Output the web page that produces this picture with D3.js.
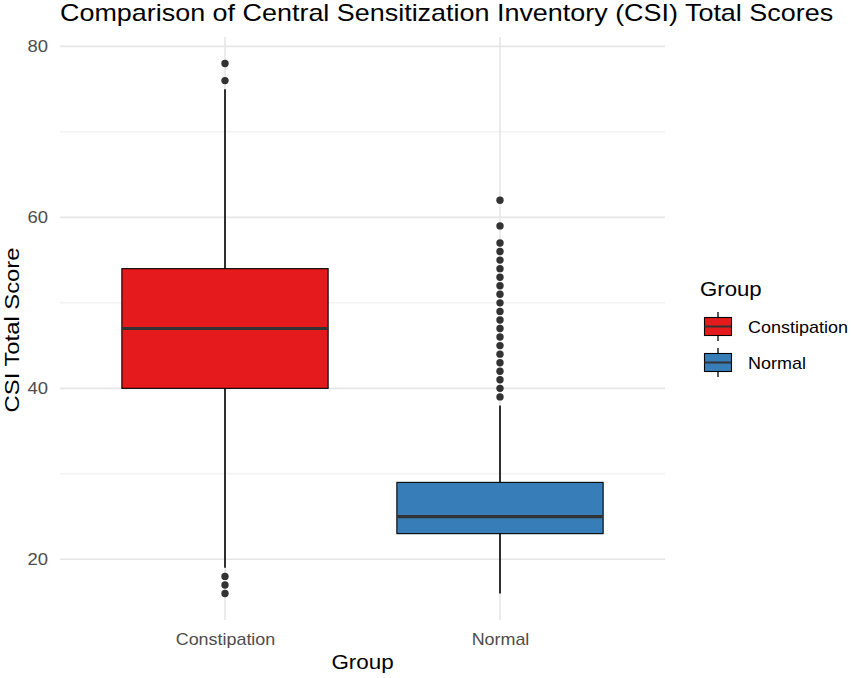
<!DOCTYPE html>
<html>
<head>
<meta charset="utf-8">
<script src="https://cdn.jsdelivr.net/npm/d3@7/dist/d3.min.js"></script>
<style>
  html, body { margin: 0; padding: 0; background: #fff; }
  text { font-family: "Liberation Sans", Arial, sans-serif; }
</style>
</head>
<body>
<svg id="chart" width="851" height="678"></svg>
<script>
const groups = ["Constipation", "Normal"];
const colors = ["#E41A1C", "#377EB8"];
const q1 = [40, 23];
const medians = [47, 25];
const q3 = [54, 29];
const whiskerLow = [19, 16];
const whiskerHigh = [75, 38];
const outliersConstipation = [78, 76, 18, 17, 16];
const outliersNormal = [62, 59, 57, 56, 55, 54, 53, 52, 51, 50, 49, 48, 47, 46, 45, 44, 43, 42, 41, 40, 39];
const yTicks = [20, 40, 60, 80];
const yMinor = [30, 50, 70];

const outliers = [outliersConstipation, outliersNormal];

const svg = d3.select("#chart");
const panel = { left: 60, right: 665, top: 37, bottom: 620 };

const x = d3.scalePoint().domain(groups).range([panel.left, panel.right]).padding(0.6);
const y = d3.scaleLinear().domain([12.9, 81.1]).range([panel.bottom, panel.top]);
const boxW = x.step() * 0.75;

// helper for horizontally widened text
function label(px, py, txt, size, sx, anchor, rot) {
  const gg = svg.append("g")
    .attr("transform", `translate(${px},${py}) rotate(${rot || 0}) scale(${sx},1)`);
  gg.append("text").attr("x", 0).attr("y", 0)
    .attr("text-anchor", anchor || "start")
    .style("font-size", size + "px").attr("fill", "#000").text(txt);
  return gg;
}

// grid
const g = svg.append("g");
g.selectAll(".minor").data(yMinor).join("line")
  .attr("x1", panel.left).attr("x2", panel.right)
  .attr("y1", d => y(d)).attr("y2", d => y(d))
  .attr("stroke", "#ebebeb").attr("stroke-width", 0.9);
g.selectAll(".major").data(yTicks).join("line")
  .attr("x1", panel.left).attr("x2", panel.right)
  .attr("y1", d => y(d)).attr("y2", d => y(d))
  .attr("stroke", "#e6e6e6").attr("stroke-width", 1.6);
g.selectAll(".vmajor").data(groups).join("line")
  .attr("x1", d => x(d)).attr("x2", d => x(d))
  .attr("y1", panel.top).attr("y2", panel.bottom)
  .attr("stroke", "#e6e6e6").attr("stroke-width", 1.6);

// axes
const yAxis = d3.axisLeft(y).tickValues(yTicks).tickSize(0).tickPadding(10.7);
const ya = svg.append("g").attr("transform", `translate(${panel.left},0)`).call(yAxis);
ya.select(".domain").remove();
ya.selectAll("text").attr("fill", "#4d4d4d").style("font-size", "16.5px")
  .style("font-family", "'Liberation Sans', Arial, sans-serif")
  .attr("transform", "scale(1.12,1)");

const xAxis = d3.axisBottom(x).tickSize(0).tickPadding(13.5);
const xa = svg.append("g").attr("transform", `translate(0,${panel.bottom})`).call(xAxis);
xa.select(".domain").remove();
xa.selectAll("text").attr("fill", "#4d4d4d").style("font-size", "16px")
  .style("font-family", "'Liberation Sans', Arial, sans-serif")
  .attr("transform", "scale(1.12,1)");

// boxes
const boxes = svg.append("g");
groups.forEach((grp, i) => {
  const cx = x(grp);
  boxes.append("line").attr("x1", cx).attr("x2", cx)
    .attr("y1", y(whiskerHigh[i])).attr("y2", y(q3[i]))
    .attr("stroke", "#000").attr("stroke-width", 1.6);
  boxes.append("line").attr("x1", cx).attr("x2", cx)
    .attr("y1", y(q1[i])).attr("y2", y(whiskerLow[i]))
    .attr("stroke", "#000").attr("stroke-width", 1.6);
  boxes.append("rect")
    .attr("x", cx - boxW / 2).attr("width", boxW)
    .attr("y", y(q3[i])).attr("height", y(q1[i]) - y(q3[i]))
    .attr("fill", colors[i]).attr("stroke", "#000").attr("stroke-width", 1.1);
  boxes.append("line")
    .attr("x1", cx - boxW / 2).attr("x2", cx + boxW / 2)
    .attr("y1", y(medians[i])).attr("y2", y(medians[i]))
    .attr("stroke", "#333").attr("stroke-width", 3.2);
  boxes.selectAll(null).data(outliers[i]).join("circle")
    .attr("cx", cx).attr("cy", d => y(d)).attr("r", 3.7)
    .attr("fill", "#333");
});

// title
label(panel.left, 21, "Comparison of Central Sensitization Inventory (CSI) Total Scores", 24, 1.122, "start");

// axis titles
label((panel.left + panel.right) / 2, 669, "Group", 20, 1.12, "middle");
label(19, 330, "CSI Total Score", 20, 1.19, "middle", -90);

// legend
label(700, 296, "Group", 20, 1.11, "start");
const lg = svg.append("g");
groups.forEach((grp, i) => {
  const top = 312 + i * 36;
  const cx = 718;
  lg.append("line").attr("x1", cx).attr("x2", cx).attr("y1", top).attr("y2", top + 29)
    .attr("stroke", "#000").attr("stroke-width", 1.3);
  lg.append("rect").attr("x", 704.5).attr("y", top + 5.5).attr("width", 27).attr("height", 18)
    .attr("fill", colors[i]).attr("stroke", "#000").attr("stroke-width", 1.1);
  lg.append("line").attr("x1", 704.5).attr("x2", 731.5).attr("y1", top + 14.5).attr("y2", top + 14.5)
    .attr("stroke", "#333").attr("stroke-width", 2);
  label(748, top + 20.5, grp, 16, 1.125, "start");
});
</script>
</body>
</html>
